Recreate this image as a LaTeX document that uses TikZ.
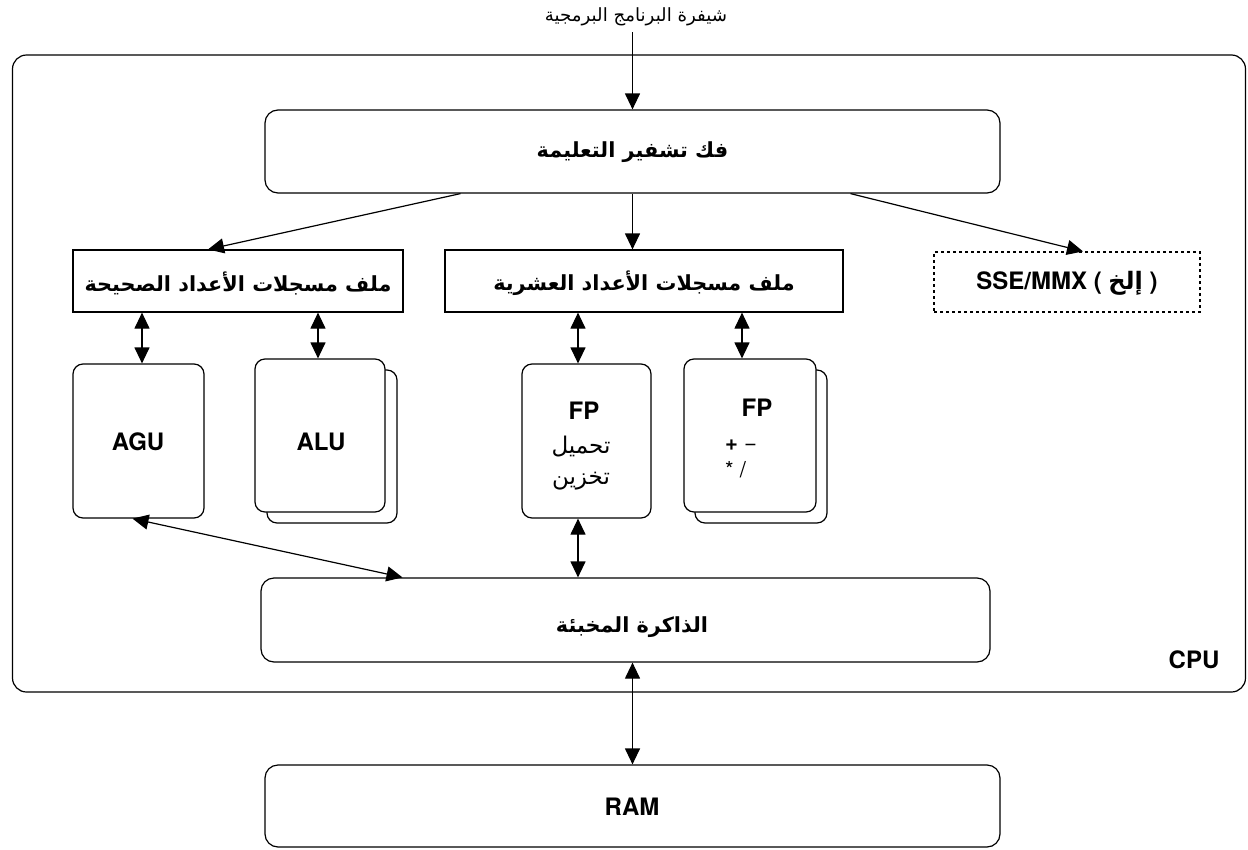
\documentclass[tikz,border=0pt]{standalone}
\usepackage{fontspec}
\setmainfont{TeX Gyre Heros}
\newfontfamily\arabicfont[Script=Arabic]{DejaVu Sans}
\TeXXeTstate=1
\usetikzlibrary{arrows.meta}
\newcommand{\artext}[1]{{\arabicfont\beginR #1\endR}}

\tikzset{
  unit/.style={draw, line width=1.2pt, rounded corners=10pt, fill=white, inner sep=0pt},
  bigbox/.style={draw, line width=1.2pt, rounded corners=13pt, fill=white, inner sep=0pt},
  regfile/.style={draw, line width=1.2pt, fill=white, inner sep=0pt},
  optbox/.style={draw, line width=1.2pt, dash pattern=on 3pt off 3pt, fill=white, inner sep=0pt},
  lbl/.style={font=\bfseries\fontsize{24}{28}\selectfont, inner sep=0pt},
  arlbl/.style={font=\bfseries\fontsize{20.8}{25}\selectfont, inner sep=0pt},
  small/.style={font=\fontsize{23}{27}\selectfont, inner sep=0pt},
  tip/.tip={Triangle[length=16pt,width=15pt]},
  arr/.style={line width=1.2pt, -tip},
  biarr/.style={line width=1.2pt, tip-tip},
}

\begin{document}
\begin{tikzpicture}[x=1pt, y=-1pt]
\useasboundingbox (0,0) rectangle (1248,849);

% processor outline
\node[draw, line width=1.2pt, rounded corners=14pt, minimum width=1233pt, minimum height=637pt, inner sep=0pt] (cpu) at (629,373.5) {};
\node[lbl] (cpulbl) at (1194,660) {CPU};

% program code entering the decoder
\node[inner sep=0pt, font=\fontsize{18.2}{21}\selectfont] (code) at (636,17) {\artext{شيفرة البرنامج البرمجية}};

% instruction decoder
\node[bigbox, minimum width=735pt, minimum height=83pt] (dec) at (632.5,151.5) {};
\node[arlbl] (declbl) at (632.5,152) {\artext{فك تشفير التعليمة}};

% register files
\node[regfile, minimum width=330pt, minimum height=62pt] (ireg) at (238,281) {};
\node[arlbl] (ireglbl) at (238,283) {\artext{ملف مسجلات الأعداد الصحيحة}};
\node[regfile, minimum width=398pt, minimum height=62pt] (freg) at (644,281) {};
\node[arlbl] (freglbl) at (644,283) {\artext{ملف مسجلات الأعداد العشرية}};
\node[optbox, minimum width=266pt, minimum height=60pt] (sse) at (1067,282) {};
\node[lbl] (sselbl) at (1067,283) {SSE/MMX ( \artext{إلخ} )};

% execution units
\node[unit, minimum width=131pt, minimum height=154pt] (agu) at (138.5,441) {};
\node[lbl] (agulbl) at (138,442) {AGU};

\node[unit, minimum width=130pt, minimum height=153pt] (alub) at (332,446.5) {};
\node[unit, minimum width=130pt, minimum height=153pt] (alu) at (320,435.5) {};
\node[lbl] (alulbl) at (321,442) {ALU};

\node[unit, minimum width=129pt, minimum height=154pt] (fpls) at (586.5,441) {};
\node[lbl] (fplslbl) at (584,411) {FP};
\node[small] (fplsld) at (581,447) {\artext{تحميل}};
\node[small] (fplsst) at (581,481) {\artext{تخزين}};

\node[unit, minimum width=132pt, minimum height=153pt] (fpab) at (761,446.5) {};
\node[unit, minimum width=132pt, minimum height=153pt] (fpa) at (750,435.5) {};
\node[lbl] (fpalbl) at (757,408) {FP};
\node[inner sep=0pt, anchor=west, font=\fontsize{22}{26}\selectfont] (fpaadd) at (725,445) {\textbf{+} −};
\node[inner sep=0pt, anchor=west, font=\fontsize{22}{26}\selectfont] (fpamul) at (725,470) {* /};

% cache and main memory
\node[bigbox, minimum width=729pt, minimum height=84pt] (cache) at (625.5,620) {};
\node[arlbl] (cachelbl) at (632,627) {\artext{الذاكرة المخبئة}};
\node[bigbox, minimum width=735pt, minimum height=82pt] (ram) at (632.5,806) {};
\node[lbl] (ramlbl) at (632,807) {RAM};

% connectors
\draw[arr] (dec.north |- 0,32) -- (dec.north);
\draw[arr] ([xshift=-172pt]dec.south) -- ([xshift=-30pt]ireg.north);
\draw[arr] (dec.south) -- (dec.south |- freg.north);
\draw[arr] ([xshift=218pt]dec.south) -- ([xshift=16pt]sse.north);

\coordinate (aguT) at ([xshift=3.5pt]agu.north);
\coordinate (aluT) at ([xshift=-2pt]alu.north);
\coordinate (fplsT) at ([xshift=-8.5pt]fpls.north);
\coordinate (fplsB) at ([xshift=-8.5pt]fpls.south);
\coordinate (fpaT) at ([xshift=-8pt]fpa.north);
\draw[biarr] (aguT |- ireg.south) -- (aguT);
\draw[biarr] (aluT |- ireg.south) -- (aluT);
\draw[biarr] (fplsT |- freg.south) -- (fplsT);
\draw[biarr] (fpaT |- freg.south) -- (fpaT);
\draw[biarr] (fplsB) -- (fplsB |- cache.north);
\draw[biarr] ([xshift=-6pt]agu.south) -- ([xshift=-223pt]cache.north);
\draw[biarr] (ram.north |- cache.south) -- (ram.north);
\end{tikzpicture}
\end{document}
